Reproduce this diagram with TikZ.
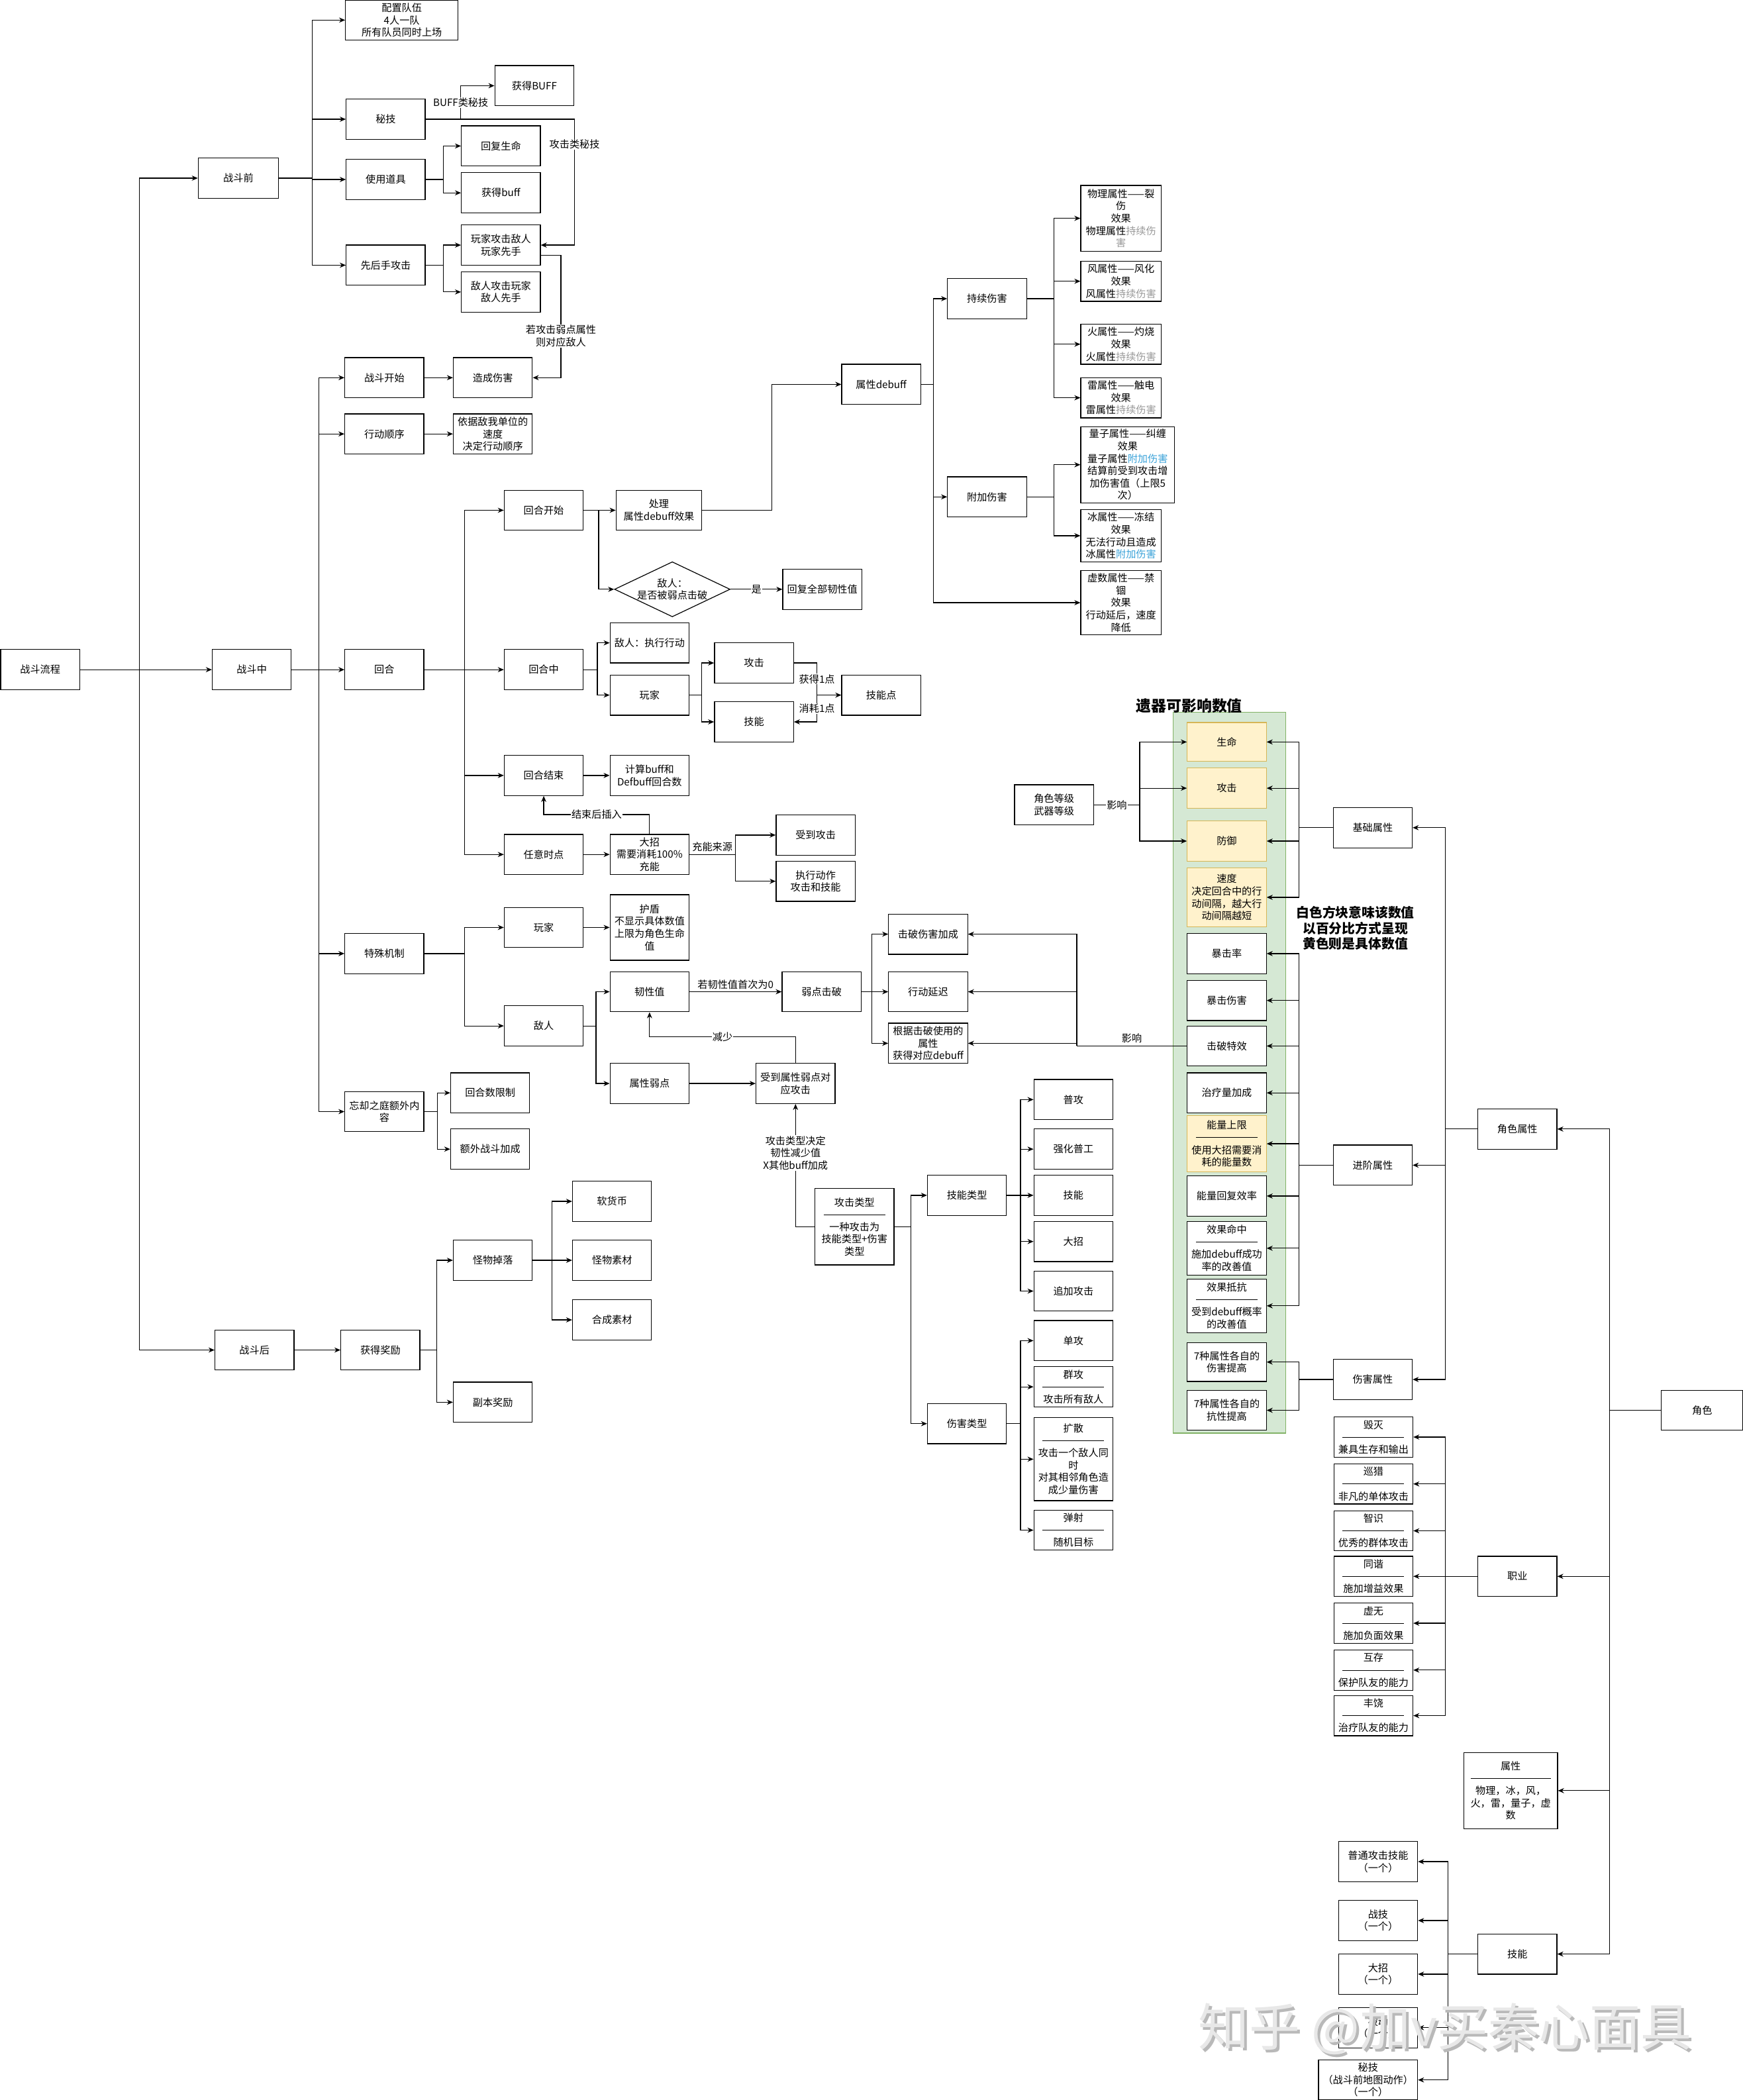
\documentclass[tikz,border=0pt]{standalone}
\usepackage{fontspec}
\setmainfont{Noto Sans CJK SC}
\usetikzlibrary{shapes.geometric,arrows.meta}

\definecolor{panelgreen}{HTML}{D5E8D4}
\definecolor{panelline}{HTML}{82B366}
\definecolor{relicyellow}{HTML}{FFF2CC}
\definecolor{relicline}{HTML}{D6B656}
\definecolor{dotgray}{HTML}{999999}
\definecolor{addblue}{HTML}{3BA3D9}
\newcommand{\sepr}[1][46pt]{\raisebox{2.6pt}{\rule{#1}{0.4pt}}}

\begin{document}
\begin{tikzpicture}[x=1pt, y=-1pt,
    box/.style={draw, line width=0.6pt, minimum width=59pt, minimum height=30pt, inner sep=0.5pt, align=center, font=\fontsize{7.5}{9.2}\selectfont},
    ybox/.style={box, fill=relicyellow, draw=relicline},
    wbox/.style={box, fill=white},
    arr/.style={-{Stealth[length=4.5pt,width=3.8pt]}, line width=0.6pt},
    ln/.style={line width=0.6pt},
    lbl/.style={fill=white, inner sep=0.5pt, align=center, font=\fontsize{7.5}{9.2}\selectfont},
]
\fill[white] (0,0) rectangle (1301,1568);
\useasboundingbox (0,0) rectangle (1301,1568);

\node[box] (flow) at (30,500) {战斗流程};
\node[box, minimum width=60pt] (pre) at (178,133) {战斗前};
\node[box] (mid) at (188,500) {战斗中};
\node[box] (post) at (190,1008) {战斗后};
\coordinate (t0) at (104,500);
\draw[arr] (flow) -- (t0) |- (pre);
\draw[arr] (t0) -- (mid);
\draw[arr] (t0) |- (post);

\node[box, minimum width=84pt] (team) at (300,15) {配置队伍\\4人一队\\所有队员同时上场};
\node[box] (secret) at (288,89) {秘技};
\node[box] (item) at (288,134) {使用道具};
\node[box] (first) at (288,198) {先后手攻击};
\node[box] (buffup) at (399,64) {获得BUFF};
\node[box] (heal) at (374,109) {回复生命};
\node[box] (buffget) at (374,144) {获得buff};
\node[box] (pfirst) at (374,183) {玩家攻击敌人\\玩家先手};
\node[box] (efirst) at (374,218) {敌人攻击玩家\\敌人先手};
\coordinate (t1) at (233,133);
\draw[ln] (pre) -- (t1);
\draw[arr] (t1) |- (team);
\draw[arr] (t1) |- (secret);
\draw[arr] (t1) |- (item);
\draw[arr] (t1) |- (first);
\coordinate (t2) at (344,89);
\draw[ln] (secret) -- (t2);
\draw[arr] (t2) |- node[lbl, pos=0.25] {BUFF类秘技} (buffup);
\draw[arr] (t2) -- ++(85,0) -- node[lbl, pos=0.2] {攻击类秘技} ++(0,94) -- (pfirst.east);
\coordinate (t3) at (331,134);
\draw[ln] (item) -- (t3);
\draw[arr] (t3) |- (heal);
\draw[arr] (t3) |- (buffget);
\coordinate (t4) at (331,198);
\draw[ln] (first) -- (t4);
\draw[arr] (t4) |- (pfirst);
\draw[arr] (t4) |- (efirst);

\node[box] (start) at (287,282) {战斗开始};
\node[box] (dmg) at (368,282) {造成伤害};
\node[box] (order) at (287,324) {行动顺序};
\node[box] (speed) at (368,324) {依据敌我单位的\\速度\\决定行动顺序};
\node[box] (round) at (287,500) {回合};
\node[box] (special) at (287,712) {特殊机制};
\node[box] (extra) at (287,830) {忘却之庭额外内\\容};
\coordinate (t5) at (238,500);
\draw[ln] (mid) -- (t5);
\draw[arr] (t5) |- (start);
\draw[arr] (t5) |- (order);
\draw[arr] (t5) -- (round);
\draw[arr] (t5) |- (special);
\draw[arr] (t5) |- (extra);
\draw[arr] (start) -- (dmg);
\draw[arr] (order) -- (speed);
\draw[arr] ([yshift=-7.5pt]pfirst.east) -- ++(15,0) |- node[lbl, pos=0.33] {若攻击弱点属性\\则对应敌人} (dmg);

\node[box] (rstart) at (406,381) {回合开始};
\node[box] (rmid) at (406,500) {回合中};
\node[box] (rend) at (406,579) {回合结束};
\node[box] (rany) at (406,638) {任意时点};
\coordinate (t6) at (347,500);
\draw[ln] (round) -- (t6);
\draw[arr] (t6) |- (rstart);
\draw[arr] (t6) -- (rmid);
\draw[arr] (t6) |- (rend);
\draw[arr] (t6) |- (rany);

\node[box, minimum width=64pt] (proc) at (492,381) {处理\\属性debuff效果};
\node[draw, line width=0.6pt, diamond, aspect=2.1, inner sep=0pt, align=center, font=\fontsize{7.5}{9.2}\selectfont] (broken) at (502,440) {敌人：\\是否被弱点击破};
\node[box] (recover) at (614,440) {回复全部韧性值};
\coordinate (t7) at (447,381);
\draw[arr] (rstart) -- (proc);
\draw[arr] (t7) |- (broken);
\draw[arr] (broken) -- node[lbl] {是} (recover);

\node[box] (debuff) at (658,287) {属性debuff};
\draw[arr] (proc.east) -- ++(52,0) |- (debuff);
\node[box] (dot) at (737,223) {持续伤害};
\node[box] (adddmg) at (737,371) {附加伤害};
\node[box, minimum width=60pt, minimum height=48pt] (imag) at (837,450) {虚数属性——禁\\锢\\效果\\行动延后，速度\\降低};
\coordinate (t8) at (697,287);
\draw[ln] (debuff) -- (t8);
\draw[arr] (t8) |- (dot);
\draw[arr] (t8) |- (adddmg);
\draw[arr] (t8) |- (imag);

\node[box, minimum width=60pt, minimum height=49pt] (phys) at (837,163) {物理属性——裂\\伤\\效果\\物理属性\textcolor{dotgray}{持续伤}\\\textcolor{dotgray}{害}};
\node[box, minimum width=60pt] (wind) at (837,210) {风属性——风化\\效果\\风属性\textcolor{dotgray}{持续伤害}};
\node[box, minimum width=60pt] (fire) at (837,257) {火属性——灼烧\\效果\\火属性\textcolor{dotgray}{持续伤害}};
\node[box, minimum width=60pt] (thunder) at (837,297) {雷属性——触电\\效果\\雷属性\textcolor{dotgray}{持续伤害}};
\coordinate (t9) at (787,223);
\draw[ln] (dot) -- (t9);
\draw[arr] (t9) |- (phys);
\draw[arr] (t9) |- (wind);
\draw[arr] (t9) |- (fire);
\draw[arr] (t9) |- (thunder);
\node[box, minimum width=70pt, minimum height=57pt] (quantum) at (842,347) {量子属性——纠缠\\效果\\量子属性\textcolor{addblue}{附加伤害}\\结算前受到攻击增\\加伤害值（上限5\\次）};
\node[box, minimum width=60pt, minimum height=39pt] (ice) at (837,400) {冰属性——冻结\\效果\\无法行动且造成\\冰属性\textcolor{addblue}{附加伤害}};
\coordinate (t10) at (787,371);
\draw[ln] (adddmg) -- (t10);
\draw[arr] (t10) |- (quantum);
\draw[arr] (t10) |- (ice);

\node[box] (enemyact) at (485,480) {敌人：执行行动};
\node[box] (player) at (485,519) {玩家};
\node[box] (atk) at (563,495) {攻击};
\node[box] (skill) at (563,539) {技能};
\node[box] (sp) at (658,519) {技能点};
\coordinate (t11) at (446,500);
\draw[ln] (rmid) -- (t11);
\draw[arr] (t11) |- (enemyact);
\draw[arr] (t11) |- (player);
\coordinate (t12) at (524,519);
\draw[ln] (player) -- (t12);
\draw[arr] (t12) |- (atk);
\draw[arr] (t12) |- (skill);
\coordinate (t13) at (610,519);
\draw[ln] (atk) -| node[lbl, pos=0.75] {获得1点} (t13);
\draw[arr] (t13) -- (sp);
\draw[arr] (t13) |- node[lbl, pos=0.25] {消耗1点} (skill);

\node[box] (calc) at (485,579) {计算buff和\\Defbuff回合数};
\node[box] (ult) at (485,638) {大招\\需要消耗100\%\\充能};
\node[box] (hit) at (609,623.5) {受到攻击};
\node[box] (act) at (609,658) {执行动作\\攻击和技能};
\draw[arr] (rend) -- (calc);
\draw[arr] (rany) -- (ult);
\draw[arr] (ult.north) -- ++(0,-14.5) -| node[lbl, pos=0.25] {结束后插入} (rend.south);
\coordinate (t14) at (549,638);
\draw[ln] (ult) -- node[lbl, yshift=5.5pt] {充能来源} (t14);
\draw[arr] (t14) |- (hit);
\draw[arr] (t14) |- (act);

\node[box] (splayer) at (406,692.5) {玩家};
\node[box] (senemy) at (406,766) {敌人};
\node[box, minimum height=49pt] (shield) at (485,692.5) {护盾\\不显示具体数值\\上限为角色生命\\值};
\node[box] (tough) at (485,740.5) {韧性值};
\node[box] (weak) at (485,809) {属性弱点};
\node[box] (wbreak) at (613.5,740.5) {弱点击破};
\node[box] (wattack) at (594,809) {受到属性弱点对\\应攻击};
\coordinate (t15) at (347,712);
\draw[ln] (special) -- (t15);
\draw[arr] (t15) |- (splayer);
\draw[arr] (t15) |- (senemy);
\draw[arr] (splayer) -- (shield);
\coordinate (t16) at (445,766);
\draw[ln] (senemy) -- (t16);
\draw[arr] (t16) |- (tough);
\draw[arr] (t16) |- (weak);
\draw[arr] (tough) -- node[lbl, yshift=5.5pt] {若韧性值首次为0} (wbreak);
\draw[arr] (weak) -- (wattack);
\draw[arr] (wattack.north) -- ++(0,-19.5) -| node[lbl, pos=0.25] {减少} (tough.south);

\node[box] (bdmg) at (693,697.5) {击破伤害加成};
\node[box] (delay) at (693,740.5) {行动延迟};
\node[box] (bdebuff) at (693,779) {根据击破使用的\\属性\\获得对应debuff};
\coordinate (t17) at (651,740.5);
\draw[ln] (wbreak) -- (t17);
\draw[arr] (t17) |- (bdmg);
\draw[arr] (t17) -- (delay);
\draw[arr] (t17) |- (bdebuff);

\node[box] (limit) at (366,816) {回合数限制};
\node[box] (bonus) at (366,858) {额外战斗加成};
\coordinate (t18) at (326.5,830);
\draw[ln] (extra) -- (t18);
\draw[arr] (t18) |- (limit);
\draw[arr] (t18) |- (bonus);

\node[box] (reward) at (284,1008) {获得奖励};
\node[box] (drop) at (368,941) {怪物掉落};
\node[box] (dungeon) at (368,1047) {副本奖励};
\node[box] (coin) at (457,897) {软货币};
\node[box] (mat) at (457,941) {怪物素材};
\node[box] (craft) at (457,985.5) {合成素材};
\draw[arr] (post) -- (reward);
\coordinate (t19) at (326,1008);
\draw[ln] (reward) -- (t19);
\draw[arr] (t19) |- (drop);
\draw[arr] (t19) |- (dungeon);
\coordinate (t20) at (412,941);
\draw[ln] (drop) -- (t20);
\draw[arr] (t20) |- (coin);
\draw[arr] (t20) -- (mat);
\draw[arr] (t20) |- (craft);

\node[box, minimum height=57pt] (atype) at (638,916) {攻击类型\\\sepr\\一种攻击为\\技能类型+伤害\\类型};
\draw[arr] (atype.west) -| node[lbl, pos=0.8] {攻击类型决定\\韧性减少值\\X其他buff加成} (wattack.south);
\node[box] (stype) at (722,892.5) {技能类型};
\node[box] (dtype) at (722,1063) {伤害类型};
\coordinate (t21) at (680,916);
\draw[ln] (atype) -- (t21);
\draw[arr] (t21) |- (stype);
\draw[arr] (t21) |- (dtype);
\node[box] (s1) at (801.5,821) {普攻};
\node[box] (s2) at (801.5,858) {强化普工};
\node[box] (s3) at (801.5,892.5) {技能};
\node[box] (s4) at (801.5,927) {大招};
\node[box] (s5) at (801.5,964) {追加攻击};
\coordinate (t22) at (762,892.5);
\draw[ln] (stype) -- (t22);
\draw[arr] (t22) |- (s1);
\draw[arr] (t22) |- (s2);
\draw[arr] (t22) -- (s3);
\draw[arr] (t22) |- (s4);
\draw[arr] (t22) |- (s5);
\node[box] (d1) at (801.5,1001) {单攻};
\node[box] (d2) at (801.5,1035.5) {群攻\\\sepr\\攻击所有敌人};
\node[box, minimum height=62pt] (d3) at (801.5,1089.5) {扩散\\\sepr\\攻击一个敌人同\\时\\对其相邻角色造\\成少量伤害};
\node[box] (d4) at (801.5,1142.5) {弹射\\\sepr\\随机目标};
\coordinate (t23) at (762,1063);
\draw[ln] (dtype) -- (t23);
\draw[arr] (t23) |- (d1);
\draw[arr] (t23) |- (d2);
\draw[arr] (t23) |- (d3);
\draw[arr] (t23) |- (d4);

\node[draw=panelline, fill=panelgreen, line width=0.6pt, minimum width=84pt, minimum height=538pt] (panel) at (918,801) {};
\node[font=\bfseries\fontsize{11.3}{13}\selectfont] (ptitle) at (888,527) {遗器可影响数值};
\node[ybox, minimum height=29pt] (hp) at (916,554) {生命};
\node[ybox] (atkv) at (916,588.5) {攻击};
\node[ybox] (defv) at (916,628) {防御};
\node[ybox, minimum height=44pt] (spd) at (916,670) {速度\\决定回合中的行\\动间隔，越大行\\动间隔越短};
\node[wbox] (crate) at (916,712) {暴击率};
\node[wbox] (cdmg) at (916,747) {暴击伤害};
\node[wbox] (brk) at (916,781) {击破特效};
\node[wbox] (healup) at (916,816) {治疗量加成};
\node[ybox, minimum height=42pt] (energy) at (916,854) {能量上限\\\sepr\\使用大招需要消\\耗的能量数};
\node[wbox] (enrec) at (916,893) {能量回复效率};
\node[wbox, minimum height=40pt] (ehit) at (916,932) {效果命中\\\sepr\\施加debuff成功\\率的改善值};
\node[wbox, minimum height=40pt] (eres) at (916,975) {效果抵抗\\\sepr\\受到debuff概率\\的改善值};
\node[wbox, minimum height=29pt] (dmgup) at (916,1017) {7种属性各自的\\伤害提高};
\node[wbox] (resup) at (916,1053) {7种属性各自的\\抗性提高};

\coordinate (t24) at (804,781);
\draw[ln] (brk) -- node[lbl, yshift=6pt] {影响} (t24);
\draw[arr] (t24) |- (bdmg);
\draw[arr] (t24) |- (delay);
\draw[arr] (t24) |- (bdebuff);

\node[box] (lvl) at (787,601) {角色等级\\武器等级};
\coordinate (t25) at (851,601);
\draw[ln] (lvl) -- node[lbl] {影响} (t25);
\draw[arr] (t25) |- (hp);
\draw[arr] (t25) |- (atkv);
\draw[arr] (t25) |- (defv);

\node[box] (base) at (1025,618) {基础属性};
\node[box] (adv) at (1025,870) {进阶属性};
\node[box] (dmgattr) at (1025,1030) {伤害属性};
\node[font=\bfseries\fontsize{9.8}{11.7}\selectfont, align=center] (note) at (1012,693) {白色方块意味该数值\\以百分比方式呈现\\黄色则是具体数值};
\coordinate (t26) at (970,618);
\draw[ln] (base) -- (t26);
\draw[arr] (t26) |- (hp);
\draw[arr] (t26) |- (atkv);
\draw[arr] (t26) |- (defv);
\draw[arr] (t26) |- (spd);
\coordinate (t27) at (970,870);
\draw[ln] (adv) -- (t27);
\draw[arr] (t27) |- (crate);
\draw[arr] (t27) |- (cdmg);
\draw[arr] (t27) |- (brk);
\draw[arr] (t27) |- (healup);
\draw[arr] (t27) |- (energy);
\draw[arr] (t27) |- (enrec);
\draw[arr] (t27) |- (ehit);
\draw[arr] (t27) |- (eres);
\coordinate (t28) at (970,1030);
\draw[ln] (dmgattr) -- (t28);
\draw[arr] (t28) |- (dmgup);
\draw[arr] (t28) |- (resup);

\node[box] (cattr) at (1133,843) {角色属性};
\coordinate (t29) at (1079,843);
\draw[ln] (cattr) -- (t29);
\draw[arr] (t29) |- (base);
\draw[arr] (t29) |- (adv);
\draw[arr] (t29) |- (dmgattr);

\node[box, minimum width=61pt] (role) at (1271,1053) {角色};
\node[box] (job) at (1133,1177) {职业};
\node[box, minimum width=70pt, minimum height=57pt] (elem) at (1128,1337) {属性\\\sepr[60pt]\\物理，冰，风，\\火，雷，量子，虚\\数};
\node[box] (skillset) at (1133,1459) {技能};
\coordinate (t30) at (1202,1053);
\draw[ln] (role) -- (t30);
\draw[arr] (t30) |- (cattr);
\draw[arr] (t30) |- (job);
\draw[arr] (t30) |- (elem);
\draw[arr] (t30) |- (skillset);

\node[box] (p1) at (1025.5,1073) {毁灭\\\sepr\\兼具生存和输出};
\node[box] (p2) at (1025.5,1108) {巡猎\\\sepr\\非凡的单体攻击};
\node[box] (p3) at (1025.5,1143) {智识\\\sepr\\优秀的群体攻击};
\node[box] (p4) at (1025.5,1177) {同谐\\\sepr\\施加增益效果};
\node[box] (p5) at (1025.5,1212) {虚无\\\sepr\\施加负面效果};
\node[box] (p6) at (1025.5,1247) {互存\\\sepr\\保护队友的能力};
\node[box] (p7) at (1025.5,1281) {丰饶\\\sepr\\治疗队友的能力};
\coordinate (t31) at (1079,1177);
\draw[ln] (job) -- (t31);
\draw[arr] (t31) |- (p1);
\draw[arr] (t31) |- (p2);
\draw[arr] (t31) |- (p3);
\draw[arr] (t31) -- (p4);
\draw[arr] (t31) |- (p5);
\draw[arr] (t31) |- (p6);
\draw[arr] (t31) |- (p7);

\node[box] (k1) at (1029,1390) {普通攻击技能\\（一个）};
\node[box] (k2) at (1029,1434) {战技\\（一个）};
\node[box] (k3) at (1029,1474) {大招\\（一个）};
\node[box] (k4) at (1029,1514) {被动\\（一个）};
\node[box, minimum width=74pt] (k5) at (1021.5,1553) {秘技\\（战斗前地图动作）\\（一个）};
\coordinate (t32) at (1081,1459);
\draw[ln] (skillset) -- (t32);
\draw[arr] (t32) |- (k1);
\draw[arr] (t32) |- (k2);
\draw[arr] (t32) |- (k3);
\draw[arr] (t32) |- (k4);
\draw[arr] (t32) |- (k5);

\node[text=gray!55, font=\fontsize{38}{40}\selectfont] (wmshade) at (1081,1517) {知乎 @加v买秦心面具};
\node[text=gray!18, font=\fontsize{38}{40}\selectfont] (wm) at (1079,1515) {知乎 @加v买秦心面具};
\end{tikzpicture}
\end{document}
